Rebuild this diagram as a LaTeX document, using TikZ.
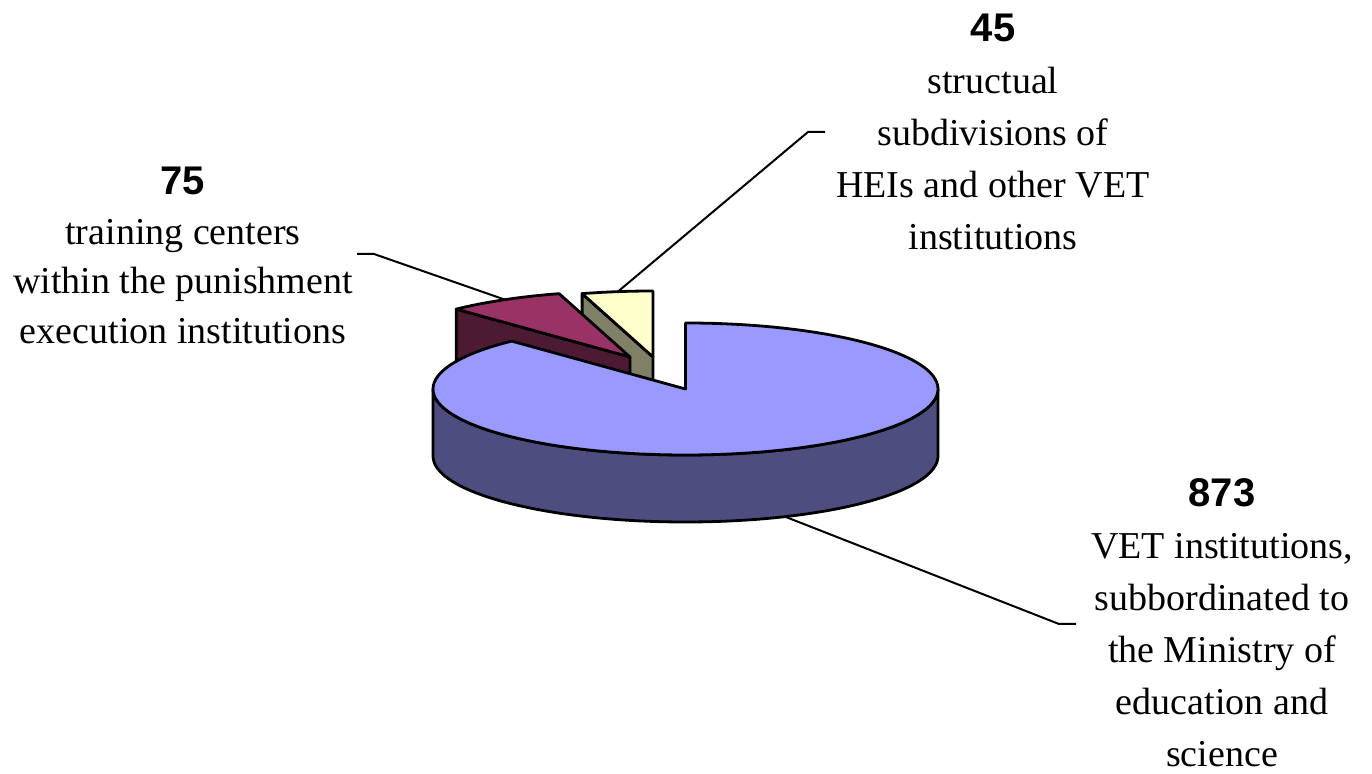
\documentclass[tikz,border=0pt]{standalone}
\usepackage{fontspec}
\setmainfont{Liberation Serif}
\newfontfamily\numfont{Liberation Sans}
\usetikzlibrary{calc}
\definecolor{bluetop}{RGB}{153,153,255}
\definecolor{blueside}{RGB}{77,77,128}
\definecolor{redtop}{RGB}{153,51,102}
\definecolor{redside}{RGB}{77,26,51}
\definecolor{yeltop}{RGB}{255,255,204}
\definecolor{yelside}{RGB}{128,128,102}
\tikzset{
  face/.style={draw=black, line width=2.8pt, line join=round},
  leader/.style={draw=black, line width=2pt},
  lbl/.style={inner sep=0pt, anchor=base, font=\fontsize{38}{52}\selectfont}
}
\newcommand{\rx}{252.5}
\newcommand{\ry}{66}
\newcommand{\numtxt}[1]{{\numfont\bfseries\fontsize{40}{52}\selectfont #1}}
\begin{document}
\begin{tikzpicture}[x=1pt,y=1pt]
\useasboundingbox (0,0) rectangle (1372,773);
% apexes
\coordinate (C) at (685.5,384);
\coordinate (R) at (630,416);
\coordinate (Y) at (653,416);
% corner points
\coordinate (y1) at ($(Y)+(106.31:\rx pt and \ry pt)$);
\coordinate (r1) at ($(R)+(133.5:\rx pt and \ry pt)$);
\coordinate (r2) at ($(R)+(106.31:\rx pt and \ry pt)$);
\coordinate (bl) at ($(C)+(180:\rx pt and \ry pt)$);
% yellow slice
\filldraw[face, fill=yelside] (y1) -- (Y) -- ++(0,-67) -- ($(y1)+(0,-67)$) -- cycle;
\filldraw[face, fill=yeltop] (Y) -- ++(0,\ry) arc[start angle=90, end angle=106.31, x radius=\rx, y radius=\ry] -- cycle;
% red slice
\filldraw[face, fill=redside] (r1) -- (R) -- ++(0,-67) -- ($(r1)+(0,-67)$) -- cycle;
\filldraw[face, fill=redtop] (R) -- (r2) arc[start angle=106.31, end angle=133.5, x radius=\rx, y radius=\ry] -- cycle;
% blue slice
\filldraw[face, fill=blueside] (bl) -- ++(0,-67) arc[start angle=180, end angle=360, x radius=\rx, y radius=\ry] -- ++(0,67) arc[start angle=0, end angle=-180, x radius=\rx, y radius=\ry] -- cycle;
\filldraw[face, fill=bluetop] (C) -- ++(0,\ry) arc[start angle=90, end angle=-226.5, x radius=\rx, y radius=\ry] -- cycle;
% leader end points
\coordinate (e75) at ($(R)+(119.7:\rx pt and \ry pt)$);
\coordinate (e45) at ($(Y)+(98:\rx pt and \ry pt)$);
\coordinate (e873) at ($(C)+(0,-67)+(-66.8:\rx pt and \ry pt)$);
\coordinate (t75a) at (357,519);
\coordinate (t75b) at (374,519);
\coordinate (t45a) at (808,641);
\coordinate (t45b) at (825,641);
\coordinate (t873a) at (1059,149);
\coordinate (t873b) at (1076,149);
\draw[leader] (t75a) -- (t75b) -- (e75);
\draw[leader] (t45b) -- (t45a) -- (e45);
\draw[leader] (e873) -- (t873a) -- (t873b);
% labels
\node[lbl] (l45) at (993,731) {\begin{tabular}[t]{@{}c@{}}\numtxt{45}\\ structual\\ subdivisions of\\ HEIs and other VET\\ institutions\end{tabular}};
\node[lbl, font=\fontsize{38}{49.5}\selectfont] (l75) at (183,578) {\begin{tabular}[t]{@{}c@{}}\numtxt{75}\\ training centers\\ within the punishment\\ execution institutions\end{tabular}};
\node[lbl] (l873) at (1222,266) {\begin{tabular}[t]{@{}c@{}}\numtxt{873}\\ VET institutions,\\ subbordinated to\\ the Ministry of\\ education and\\ science\end{tabular}};
\end{tikzpicture}
\end{document}
